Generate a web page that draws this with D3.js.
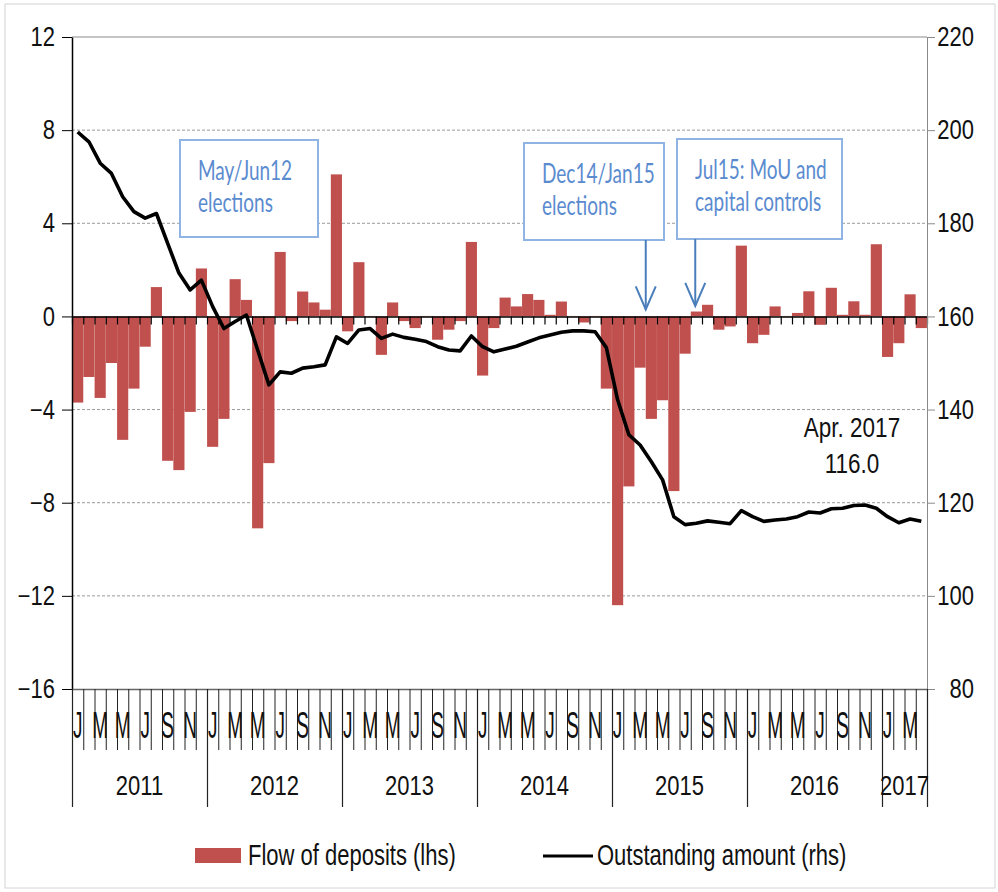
<!DOCTYPE html>
<html>
<head>
<meta charset="utf-8">
<script src="https://cdn.jsdelivr.net/npm/d3@7"></script>
<style>
  body { margin: 0; background: #fff; }
  svg { display: block; font-family: "Liberation Sans", Arial, sans-serif; }
</style>
</head>
<body>
<div id="chart"></div>
<script>
// DATA
const years = ["2011", "2012", "2013", "2014", "2015", "2016", "2017"];
const monthLetters = ["J", "F", "M", "A", "M", "J", "J", "A", "S", "O", "N", "D"];

// monthly flow of deposits, bn euro (lhs)
const flows = [
  -3.7, -2.6, -3.5, -2.0, -5.3, -3.1, -1.3, 1.26, -6.2, -6.6, -4.1, 2.06,
  -5.6, -4.4, 1.6, 0.71, -9.1, -6.3, 2.77, -0.2, 1.07, 0.6, 0.29, 6.1,
  -0.64, 2.33, 0.02, -1.65, 0.6, -0.2, -0.5, 0.02, -1.0, -0.57, -0.2, 3.2,
  -2.54, -0.5, 0.81, 0.43, 0.96, 0.71, 0.07, 0.64, 0.02, -0.26, 0.02, -3.1,
  -12.4, -7.3, -2.2, -4.4, -3.6, -7.5, -1.6, 0.21, 0.5, -0.57, -0.43, 3.04,
  -1.15, -0.79, 0.43, 0.02, 0.15, 1.08, -0.36, 1.23, 0.07, 0.65, 0.07, 3.1,
  -1.74, -1.15, 0.95, -0.5
];

// outstanding amount, bn euro (rhs)
const outstanding = [
  199.6, 197.5, 192.9, 190.7, 185.7, 182.5, 181.1, 182.1, 175.7, 169.3, 165.7, 167.8,
  162.1, 157.4, 158.9, 160.3, 152.8, 145.3, 148.1, 147.8, 148.9, 149.2, 149.6, 155.6,
  154.2, 157.1, 157.4, 155.3, 156.2, 155.5, 155.1, 154.6, 153.5, 152.8, 152.6, 155.8,
  153.5, 152.4, 153.0, 153.6, 154.5, 155.4, 156.0, 156.6, 156.9, 156.9, 156.7, 153.3,
  142.1, 134.6, 132.4, 128.8, 124.9, 117.0, 115.3, 115.6, 116.1, 115.8, 115.5, 118.3,
  117.0, 116.0, 116.3, 116.5, 117.0, 118.0, 117.8, 118.7, 118.8, 119.4, 119.5, 118.8,
  117.0, 115.7, 116.5, 116.0
];

const leftTicks = [-16, -12, -8, -4, 0, 4, 8, 12];
const rightTicks = [80, 100, 120, 140, 160, 180, 200, 220];
const seriesNames = ["Flow of deposits (lhs)", "Outstanding amount (rhs)"];
const lastLabel = ["Apr. 2017", "116.0"];

// CONSTANTS
const width = 998, height = 892;
const plot = {left: 72, right: 927, top: 37, bottom: 689};
const barColour = "#c0504d";
const noteColour = "#5b8bcf";

const svg = d3.select("#chart")
    .append("svg")
        .attr("width", width)
        .attr("height", height);

// outer frame
svg.append("rect")
    .attr("x", 5).attr("y", 4)
    .attr("width", 990).attr("height", 884)
    .attr("fill", "none")
    .attr("stroke", "#d4d4d4");

const nMonths = flows.length;

const x = d3.scaleBand()
    .domain(d3.range(nMonths))
    .range([plot.left, plot.right])
    .paddingInner(0.01)
    .paddingOuter(0.01);

// month boundaries
const xi = d3.scaleLinear()
    .domain([0, nMonths])
    .range([plot.left, plot.right]);

const yL = d3.scaleLinear().domain([-16, 12]).range([plot.bottom, plot.top]);
const yR = d3.scaleLinear().domain([80, 220]).range([plot.bottom, plot.top]);

// text stretched vertically like the original picture
function stretched(g, txt, tx, ty, size, sy, anchor) {
    return g.append("text")
        .attr("transform", `translate(${tx},${ty}) scale(1,${sy})`)
        .attr("text-anchor", anchor || "start")
        .style("font-size", size + "px")
        .attr("fill", "#111")
        .text(txt);
}

// GRID
svg.append("g")
    .selectAll("line")
    .data(leftTicks.filter(d => d !== 0 && d !== -16 && d !== 12))
    .enter()
    .append("line")
        .attr("x1", plot.left).attr("x2", plot.right)
        .attr("y1", d => yL(d)).attr("y2", d => yL(d))
        .attr("stroke", "#9a9a9a")
        .attr("stroke-dasharray", "3,2");

svg.append("line")
    .attr("x1", plot.left).attr("x2", plot.right)
    .attr("y1", yL(12)).attr("y2", yL(12))
    .attr("stroke", "#8a8a8a");

// BARS
svg.append("g")
    .selectAll("rect")
    .data(flows)
    .enter()
    .append("rect")
        .attr("x", (d, i) => x(i))
        .attr("y", d => yL(Math.max(0, d)))
        .attr("width", x.bandwidth())
        .attr("height", d => Math.abs(yL(d) - yL(0)))
        .attr("fill", barColour);

// zero axis with month ticks
const zeroAxis = svg.append("g")
    .attr("transform", `translate(0, ${yL(0)})`)
    .call(d3.axisBottom(xi).tickValues(d3.range(nMonths + 1)).tickSize(8).tickSizeOuter(0).tickFormat(""));
zeroAxis.select(".domain").attr("stroke", "#000").attr("stroke-width", 1.6);
zeroAxis.selectAll(".tick line").attr("stroke", "#000").attr("stroke-width", 1.2);

// LINE
svg.append("path")
    .datum(outstanding)
    .attr("fill", "none")
    .attr("stroke", "#000")
    .attr("stroke-width", 3.6)
    .attr("stroke-linejoin", "round")
    .attr("d", d3.line()
        .x((d, i) => x(i) + x.bandwidth() / 2)
        .y(d => yR(d)));

// LEFT AXIS
const leftAxis = svg.append("g")
    .attr("transform", `translate(${plot.left}, 0)`)
    .call(d3.axisLeft(yL).tickValues(leftTicks).tickSize(10).tickPadding(7).tickSizeOuter(0));
leftAxis.select(".domain").attr("stroke", "#000").attr("stroke-width", 1.5);
leftAxis.selectAll(".tick line").attr("stroke", "#000");
leftAxis.selectAll(".tick text")
    .style("font-size", "22px")
    .style("font-family", "'Liberation Sans', Arial, sans-serif")
    .attr("fill", "#111")
    .attr("transform", "scale(1,1.22)");

// RIGHT AXIS
const rightAxis = svg.append("g")
    .attr("transform", `translate(${plot.right}, 0)`)
    .call(d3.axisRight(yR).tickValues(rightTicks).tickSize(8).tickSizeOuter(0));
rightAxis.select(".domain").attr("stroke", "#8a8a8a");
rightAxis.selectAll(".tick line").attr("stroke", "#8a8a8a");
rightAxis.selectAll(".tick text")
    .attr("x", 47)
    .attr("text-anchor", "end")
    .style("font-size", "22px")
    .style("font-family", "'Liberation Sans', Arial, sans-serif")
    .attr("fill", "#111")
    .attr("transform", "scale(1,1.22)");

// BOTTOM CATEGORY AXIS
const monthAxis = svg.append("g")
    .attr("transform", `translate(0, ${plot.bottom})`)
    .call(d3.axisBottom(xi).tickValues(d3.range(nMonths + 1)).tickSize(61).tickSizeOuter(0).tickFormat(""));
monthAxis.select(".domain").attr("stroke", "#666").attr("stroke-width", 1.3);
monthAxis.selectAll(".tick line").attr("stroke", "#222");

const yearBounds = years.map((d, i) => i * 12).concat([nMonths]);
const yearAxis = svg.append("g")
    .attr("transform", `translate(0, ${plot.bottom})`)
    .call(d3.axisBottom(xi).tickValues(yearBounds).tickSize(118).tickSizeOuter(0).tickFormat(""));
yearAxis.select(".domain").remove();
yearAxis.selectAll(".tick line").attr("stroke", "#222").attr("stroke-width", 1.2);

const monthLabels = svg.append("g");
d3.range(nMonths).filter(i => i % 2 === 0).forEach(i => {
    stretched(monthLabels, monthLetters[i % 12], x(i) + x.bandwidth() / 2, 738, 19, 1.9, "middle");
});

const yearLabels = svg.append("g");
years.forEach((yr, i) => {
    const mid = (xi(yearBounds[i]) + xi(yearBounds[i + 1])) / 2;
    stretched(yearLabels, yr, mid, 795, 22, 1.22, "middle");
});

// LAST VALUE LABEL
stretched(svg, lastLabel[0], 852, 437, 22.5, 1.24, "middle");
stretched(svg, lastLabel[1], 852, 473, 22.5, 1.24, "middle");

// ANNOTATIONS
const notes = [
    {box: [180, 140, 138, 97], lines: ["May/Jun12", "elections"]},
    {box: [524, 143, 140, 97], lines: ["Dec14/Jan15", "elections"]},
    {box: [677, 139, 165, 100], lines: ["Jul15: MoU and", "capital controls"]}
];
const noteG = svg.append("g");
notes.forEach(n => {
    noteG.append("rect")
        .attr("x", n.box[0]).attr("y", n.box[1])
        .attr("width", n.box[2]).attr("height", n.box[3])
        .attr("fill", "#fff")
        .attr("stroke", "#8fb4e3")
        .attr("stroke-width", 2);
    n.lines.forEach((t, k) => {
        stretched(noteG, t, n.box[0] + 18, n.box[1] + 40 + k * 32, 19, 1.4)
            .style("font-family", "Lato, 'Open Sans', sans-serif")
            .attr("fill", noteColour);
    });
});

// arrows: [x position as month boundary, box bottom, tip value on lhs]
const arrows = [[51, 240, 0.3], [55.4, 239, 0.45]];
arrows.forEach(a => {
    const ax = xi(a[0]), tip = yL(a[2]);
    noteG.append("line")
        .attr("x1", ax).attr("x2", ax)
        .attr("y1", a[1]).attr("y2", tip)
        .attr("stroke", "#4a7ebb").attr("stroke-width", 2);
    noteG.append("path")
        .attr("d", `M${ax - 10},${tip - 23}L${ax},${tip}L${ax + 10},${tip - 23}`)
        .attr("fill", "none")
        .attr("stroke", "#4a7ebb").attr("stroke-width", 2);
});

// LEGEND
const legend = svg.append("g");
legend.append("rect")
    .attr("x", 195).attr("y", 848)
    .attr("width", 46).attr("height", 15)
    .attr("fill", barColour);
stretched(legend, seriesNames[0], 248, 865, 22, 1.3);
legend.append("line")
    .attr("x1", 543).attr("x2", 593)
    .attr("y1", 856).attr("y2", 856)
    .attr("stroke", "#000").attr("stroke-width", 3.2);
stretched(legend, seriesNames[1], 597, 865, 22, 1.3);
</script>
</body>
</html>
